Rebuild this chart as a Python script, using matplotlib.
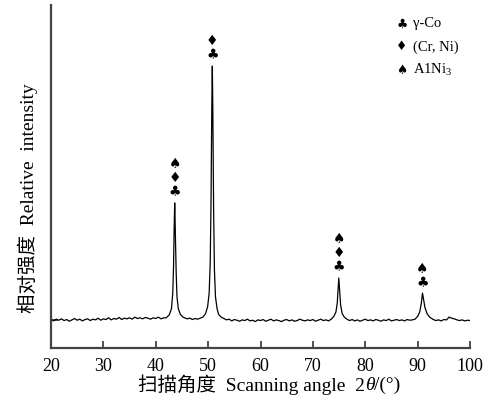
import numpy as np
import matplotlib
matplotlib.use("Agg")
import matplotlib.pyplot as plt

plt.rcParams["font.family"] = ["Liberation Serif", "Noto Sans CJK SC", "DejaVu Sans"]
plt.rcParams["mathtext.fontset"] = "custom"
plt.rcParams["mathtext.rm"] = "Liberation Serif"
plt.rcParams["mathtext.it"] = "Liberation Serif:italic"

# ---- XRD trace, read in segments (2theta in degrees, intensity in a.u.) ----
# baseline blocks sampled every 0.5 deg: (start angle, values)
base_20_42 = (20.0, [83, 79, 84, 81, 85, 80, 83, 78, 82, 86, 81, 84, 79, 83, 85,
                     80, 84, 82, 87, 81, 85, 83, 88, 82, 86, 84, 89, 83, 87, 85,
                     88, 84, 90, 86, 88, 85, 89, 87, 84, 88, 86, 90, 85, 88])
base_45_49 = (45.5, [88, 85, 87, 83, 86, 84, 87])
base_53_73 = (53.0, [86, 82, 84, 79, 83, 81, 78, 82, 80, 84, 79, 81, 77, 82, 80,
                     83, 78, 81, 84, 79, 82, 80, 77, 81, 83, 79, 82, 78, 80, 84,
                     81, 79, 82, 80, 83, 78, 81, 84, 80, 82, 79])
base_77_89 = (77.0, [80, 83, 79, 82, 78, 81, 84, 80, 82, 79, 83, 81, 78, 82, 80,
                     84, 79, 81, 83, 80, 82, 79, 83, 81, 82])
base_93_100 = (93.0, [83, 80, 82, 79, 83, 82, 90, 87, 85, 82, 80, 82, 79, 81, 80])

# diffraction peaks: angles and intensities
peak1_tt = [42.0, 42.6, 43.0, 43.25, 43.4, 43.5, 43.62, 43.75, 43.9, 44.05, 44.3, 44.7, 45.2]
peak1_int = [88, 97, 115, 160, 240, 340, 423, 330, 220, 150, 115, 98, 90]
peak2_tt = [49.0, 49.5, 49.9, 50.2, 50.4, 50.55, 50.7, 50.8, 50.9, 51.05, 51.2, 51.4, 51.7, 52.0, 52.5]
peak2_int = [90, 100, 120, 160, 250, 420, 700, 822, 690, 400, 230, 150, 115, 98, 90]
peak3_tt = [73.5, 74.0, 74.4, 74.65, 74.8, 74.95, 75.1, 75.3, 75.6, 76.0, 76.5]
peak3_int = [84, 92, 105, 130, 165, 204, 170, 125, 100, 90, 84]
peak4_tt = [89.5, 90.0, 90.4, 90.7, 90.93, 91.15, 91.4, 91.8, 92.3, 92.8]
peak4_int = [84, 92, 105, 130, 160, 140, 118, 100, 90, 85]

# phase identification above each peak (bottom to top)
peak_pos = [43.62, 50.8, 74.95, 90.93]
peak_top = [423, 822, 204, 160]
peak_phases = [["club", "diamond", "spade"],
               ["club", "diamond"],
               ["club", "diamond", "spade"],
               ["club", "spade"]]

symbols = {"club": "\u2663", "diamond": "\u2666", "spade": "\u2660"}
legend_keys = ["club", "diamond", "spade"]
legend_labels = ["\u03b3-Co", "(Cr, Ni)", "A1Ni$_3$"]

xticks = [20, 30, 40, 50, 60, 70, 80, 90, 100]


def block(b):
    start, vals = b
    return [start + 0.5 * i for i in range(len(vals))], list(vals)


segments = [block(base_20_42), (peak1_tt, peak1_int), block(base_45_49),
            (peak2_tt, peak2_int), block(base_53_73), (peak3_tt, peak3_int),
            block(base_77_89), (peak4_tt, peak4_int), block(base_93_100)]
two_theta = np.concatenate([np.asarray(s[0], float) for s in segments])
intensity = np.concatenate([np.asarray(s[1], float) for s in segments])

W, H = 492, 403
fig = plt.figure(figsize=(W / 100, H / 100), dpi=100)
ax = fig.add_axes([51 / W, 1 - 348 / H, 419 / W, 343 / H])

ax.plot(two_theta, intensity, color="black", lw=0.9)

ax.set_xlim(20, 100)
ax.set_ylim(0, 1000)
ax.set_xticks(xticks)
ax.set_xticklabels([str(t) for t in xticks], fontsize=13)
ax.set_yticks([82])
ax.set_yticklabels([])
ax.tick_params(axis="both", direction="in", length=5, width=1.2, color="#333333", pad=7)

for side in ("top", "right"):
    ax.spines[side].set_visible(False)
for side in ("left", "bottom"):
    ax.spines[side].set_linewidth(1.6)
    ax.spines[side].set_color("#444444")

# phase symbols stacked above the peaks
for pos, top, phases in zip(peak_pos, peak_top, peak_phases):
    for k, ph in enumerate(phases):
        ax.annotate(symbols[ph], xy=(pos, top), xytext=(0, 7.5 + 10.2 * k),
                    textcoords="offset points", ha="center", va="center",
                    fontsize=10, family="DejaVu Sans", color="black")

# legend of phases
for k, (key, lab) in enumerate(zip(legend_keys, legend_labels)):
    yy = 1 - (24 + 23 * k) / H
    fig.text(402 / W, yy, symbols[key], ha="center", va="center",
             fontsize=9, family="DejaVu Sans")
    fig.text(413 / W, yy, lab, ha="left", va="center", fontsize=10.5)


def run_of_text(pieces, xc, yc, fontsize):
    """Place text pieces side by side, centred as a whole at (xc, yc) in pixels."""
    renderer = fig.canvas.get_renderer()
    texts = [fig.text(0, 1 - yc / H, s, ha="left", va="center", fontsize=fontsize, **kw)
             for s, kw in pieces]
    widths = [t.get_window_extent(renderer).width for t in texts]
    x = xc - sum(widths) / 2
    for t, w in zip(texts, widths):
        t.set_x(x / W)
        x += w


run_of_text([("扫描角度  Scanning angle  2", {}),
             ("\u03b8", {"style": "italic"}),
             ("/(°)", {})], 269, 385, 14)

fig.text(28 / W, 1 - 198 / H, "相对强度  Relative  intensity",
         ha="center", va="center", rotation=90, fontsize=14)

fig.savefig("out.png", dpi=100)
